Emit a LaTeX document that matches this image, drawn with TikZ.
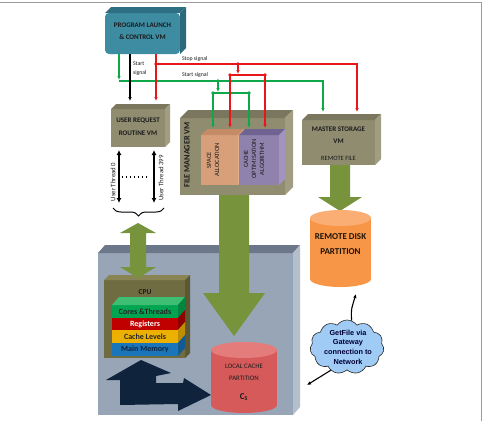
\documentclass[tikz,border=0pt]{standalone}
\usepackage{fontspec}
\setmainfont{Carlito}
\newfontfamily\arialf{Liberation Sans}
\usetikzlibrary{arrows.meta,shapes.symbols,decorations.pathreplacing}

\definecolor{bbf}{HTML}{97A5B7}\definecolor{bbt}{HTML}{6C7889}\definecolor{bbs}{HTML}{B4BFCD}
\definecolor{boxf}{HTML}{8F8C70}\definecolor{boxt}{HTML}{7A775E}\definecolor{boxs}{HTML}{A09D82}
\definecolor{plf}{HTML}{3D8CA2}\definecolor{plt}{HTML}{2E6F83}\definecolor{pls}{HTML}{2B6A7C}
\definecolor{saf}{HTML}{D8A07A}\definecolor{sat}{HTML}{C48B66}\definecolor{sas}{HTML}{E0AE8C}
\definecolor{cof}{HTML}{8F82AD}\definecolor{cot}{HTML}{6F6392}\definecolor{cos}{HTML}{A194BE}
\definecolor{cpuf}{HTML}{706C42}\definecolor{cput}{HTML}{898454}\definecolor{cpus}{HTML}{5C5833}
\definecolor{lgr}{HTML}{00A551}\definecolor{lgrt}{HTML}{3DBE72}\definecolor{lgrs}{HTML}{00863F}
\definecolor{lrd}{HTML}{C00000}\definecolor{lrds}{HTML}{8F0000}
\definecolor{lyl}{HTML}{ECB100}\definecolor{lyls}{HTML}{BD8E00}
\definecolor{lbl}{HTML}{1B75BB}\definecolor{lbls}{HTML}{145A92}
\definecolor{navy}{HTML}{0F233D}
\definecolor{olv}{HTML}{77933C}
\definecolor{orf}{HTML}{F79646}\definecolor{ort}{HTML}{FAAE74}
\definecolor{rdf}{HTML}{D75A5A}\definecolor{rdt}{HTML}{E47C7C}
\definecolor{cloudc}{HTML}{9FCBF5}
\definecolor{grn}{HTML}{0EA84B}\definecolor{sred}{HTML}{E8161B}
\definecolor{framec}{HTML}{9B9B9B}
\definecolor{txt}{HTML}{1B1B1B}

\newcommand{\boxfaces}[5]{%
  \fill[#4] (#1.north west) -- ([shift={(#2,-#3)}]#1.north west) -- ([shift={(#2,-#3)}]#1.north east) -- (#1.north east) -- cycle;
  \fill[#5] (#1.north east) -- ([shift={(#2,-#3)}]#1.north east) -- ([shift={(#2,-#3)}]#1.south east) -- (#1.south east) -- cycle;}
\newcommand{\sidefaces}[4]{%
  \fill[#4] (#1.north east) -- ([shift={(#2,-#3)}]#1.north east) -- ([shift={(#2,-#3)}]#1.south east) -- (#1.south east) -- cycle;}

\begin{document}
\begin{tikzpicture}[x=1pt,y=-1pt,
  face/.style={inner sep=0pt, outer sep=0pt, align=center, text=txt},
  lbl/.style={inner sep=0pt, outer sep=0pt, align=center, text=txt},
  sig/.style={line width=1.1pt},
  arr/.style={-{Latex[length=4pt,width=3.6pt]}},
  jdot/.style={circle, fill, inner sep=0pt, minimum size=3.8pt},
  thr/.style={line width=1.5pt, {Latex[length=5pt,width=5pt]}-{Latex[length=5pt,width=5pt]}},
  layer/.style={inner sep=0pt, outer sep=0pt, minimum width=66, font=\bfseries\fontsize{8}{9}\selectfont}
]
\useasboundingbox (0,0) rectangle (485,421);
\draw[framec, line width=0.9pt] (0,2) -- (481,2) -- (481,421);

% big base box
\node[face, fill=bbf, minimum width=195, minimum height=162] (bb) at (195.5,334) {};
\boxfaces{bb}{7}{8}{bbt}{bbs}

% CPU
\node[face, fill=cpuf, minimum width=81, minimum height=78] (cpu) at (144.5,319) {};
\boxfaces{cpu}{5}{5}{cput}{cpus}
\node[lbl, font=\bfseries\fontsize{7.5}{8}\selectfont] (cpul) at (145,292) {CPU};
\node[layer, fill=lgr, minimum height=13, text=black!85] (lc) at (145,311.5) {Cores \&Threads};
\node[layer, fill=lrd, minimum height=12, text=white] (lr) at (145,324) {Registers};
\node[layer, fill=lyl, minimum height=13, text=black!85] (ly) at (145,336.5) {Cache Levels};
\node[layer, fill=lbl, minimum height=13, text=navy] (lb) at (145,349.5) {Main Memory};
\fill[lgrt] (lc.north west) -- ([shift={(7,-8)}]lc.north west) -- ([shift={(7,-8)}]lc.north east) -- (lc.north east) -- cycle;
\sidefaces{lc}{7}{8}{lgrs}
\sidefaces{lr}{7}{8}{lrds}
\sidefaces{ly}{7}{8}{lyls}
\sidefaces{lb}{7}{8}{lbls}

% green double arrow user threads <-> CPU
\fill[olv] (138,223) -- (156,233) -- (146,233) -- (146,267) -- (156,267) -- (138,278) -- (120,267) -- (130,267) -- (130,233) -- (120,233) -- cycle;

% navy arrow
\fill[navy] (141,360) -- (171,373) -- (156,376) -- (156,383) -- (183,383) -- (184,378) -- (211,395) -- (178,411) -- (178,404) -- (120,405) -- (120,380) -- (106,380) -- cycle;

% local cache cylinder
\fill[rdf] (211,350) rectangle (277,405);
\fill[rdf] (244,405) ellipse (33 and 8);
\fill[rdt] (244,350) ellipse (33 and 8);
\node[lbl, font=\fontsize{6.8}{12}\selectfont] (lcl) at (244,372) {LOCAL CACHE\\PARTITION};
\node[lbl, font=\bfseries\fontsize{9}{10}\selectfont] (lcs) at (244,397) {C\textsubscript{S}};

% file manager
\node[face, fill=boxf, minimum width=105, minimum height=77] (fm) at (232.5,156.5) {};
\boxfaces{fm}{8}{8}{boxt}{boxs}
\node[lbl, rotate=90, font=\bfseries\fontsize{8.2}{9}\selectfont] (fml) at (187,155) {FILE MANAGER VM};
\node[face, fill=saf, minimum width=37, minimum height=50] (sa) at (219.5,160) {};
\boxfaces{sa}{6}{6}{sat}{sas}
\node[face, fill=cof, minimum width=40, minimum height=50] (co) at (259,160) {};
\boxfaces{co}{6}{6}{cot}{cos}
\node[lbl, rotate=90, font=\fontsize{6.5}{8}\selectfont] (sal) at (213,160) {SPACE\\ALLOCATION};
\node[lbl, rotate=90, font=\fontsize{6.5}{8}\selectfont] (col) at (254,159) {CACHE\\OPTIMISATION\\ALGORITHM};

% big green arrow file manager -> local cache
\fill[olv] (219,195) -- (249,195) -- (249,293) -- (265,293) -- (234,336) -- (203,293) -- (219,293) -- cycle;

% master storage
\node[face, fill=boxf, minimum width=73, minimum height=45] (ms) at (338.5,142.5) {};
\boxfaces{ms}{6}{6}{boxt}{boxs}
\node[lbl, font=\bfseries\fontsize{7}{12}\selectfont] (msl) at (338.5,135) {MASTER STORAGE\\VM};
\node[lbl, font=\fontsize{6.5}{8}\selectfont] (msr) at (338.5,158) {REMOTE FILE};
\fill[olv] (330,165) -- (350,165) -- (350,197) -- (362,197) -- (340,211) -- (318,197) -- (330,197) -- cycle;

% remote disk cylinder
\fill[orf] (310,218) rectangle (371,279);
\fill[orf] (340.5,279) ellipse (30.5 and 8);
\fill[ort] (340.5,218) ellipse (30.5 and 8);
\node[lbl, text=black!85!brown, font=\bfseries\fontsize{9}{15}\selectfont] (rdl) at (340.5,244.5) {REMOTE DISK\\PARTITION};

% program launch
\node[face, fill=plf, rounded corners=4pt, minimum width=75, minimum height=41] (pl) at (142.5,33.5) {};
\boxfaces{pl}{6}{6}{plt}{pls}
\node[lbl, font=\bfseries\fontsize{7}{12}\selectfont] (pll) at (142.5,31) {PROGRAM LAUNCH\\\& CONTROL VM};

% user request
\node[face, fill=boxf, minimum width=54, minimum height=38] (ur) at (138,128) {};
\boxfaces{ur}{5}{5}{boxt}{boxs}
\node[lbl, font=\bfseries\fontsize{7}{13}\selectfont] (url) at (138,126.5) {USER REQUEST\\ROUTINE VM};

% signal lines
\coordinate (gA) at (119,54);
\coordinate (gB) at (119,81);
\coordinate (gC) at (323,81);
\coordinate (gD) at (323,112);
\coordinate (gj) at (218,81);
\coordinate (gL) at (213,93);
\coordinate (gR) at (249,93);
\coordinate (rA) at (156,54);
\coordinate (rj) at (156,64);
\coordinate (rC) at (357,64);
\coordinate (rD) at (357,112);
\coordinate (rk) at (238,64);
\coordinate (rL) at (230,75);
\coordinate (rR) at (265,75);
\coordinate (kA) at (130,54);

\draw[sig, grn, arr] (gA) -- (119,80);
\draw[sig, grn, arr] (gB) -- (gC) -- (gD);
\draw[sig, grn, arr] (gj) -- (218,92);
\draw[sig, grn] (gL) -- (gR);
\draw[sig, grn, arr] (gL) -- (213,128);
\draw[sig, grn, arr] (gR) -- (249,128);
\node[jdot, grn] (gj0) at (gj) {};
\node[jdot, grn] (gL0) at (gL) {};
\node[jdot, grn] (gR0) at (gR) {};

\draw[sig, black, arr] (kA) -- (130,101);

\draw[sig, sred, arr] (rA) -- (156,101);
\draw[sig, sred, arr] (rj) -- (rC) -- (rD);
\draw[sig, sred, arr] (rk) -- (238,74);
\draw[sig, sred] (rL) -- (rR);
\draw[sig, sred, arr] (rL) -- (230,128);
\draw[sig, sred, arr] (rR) -- (265,128);
\node[jdot, sred] (rj0) at (rj) {};
\node[jdot, sred] (rk0) at (rk) {};
\node[jdot, sred] (rL0) at (rL) {};
\node[jdot, sred] (rR0) at (rR) {};

\node[lbl, anchor=west, align=left, font=\fontsize{5.8}{9}\selectfont] (ss1) at (133,68.5) {Start\\signal};
\node[lbl, anchor=west, font=\fontsize{5.8}{7}\selectfont] (ss2) at (182,59) {Stop signal};
\node[lbl, anchor=west, font=\fontsize{5.8}{7}\selectfont] (ss3) at (182,75) {Start signal};

% user threads
\coordinate (t0a) at (119,150);
\coordinate (t0b) at (119,203);
\coordinate (t1a) at (154,150);
\coordinate (t1b) at (154,203);
\draw[thr] (t0a) -- (t0b);
\draw[thr] (t1a) -- (t1b);
\draw[line width=1.4pt, dash pattern=on 1.4pt off 2.6pt] (122,177) -- (147,177);
\node[lbl, rotate=90, font=\fontsize{6.8}{7}\selectfont] (ut0) at (113,182) {User Thread 0};
\node[lbl, rotate=90, font=\fontsize{6.8}{7}\selectfont] (ut1) at (161,178) {User Thread 399};
\draw[line width=1pt, decorate, decoration={brace, amplitude=8pt, mirror}] (113,208) -- (164,208);

% cloud
\node[cloud, cloud puffs=11, cloud puff arc=110, aspect=1.4, draw=black!85, line width=0.6pt, fill=cloudc, minimum width=74, minimum height=54, inner sep=0pt] (cl) at (347,347) {};
\node[lbl, text=black!80!blue, font=\arialf\bfseries\fontsize{7.3}{9.6}\selectfont] (cll) at (348,347) {GetFile via\\Gateway\\connection to\\Network};
\coordinate (rdp) at (356,294);
\coordinate (nwp) at (307,385);
\draw[line width=1.1pt, arr] (cl.80) .. controls (351,310) .. (rdp);
\draw[line width=1.1pt, arr] (cl.235) -- (nwp);
\end{tikzpicture}
\end{document}
